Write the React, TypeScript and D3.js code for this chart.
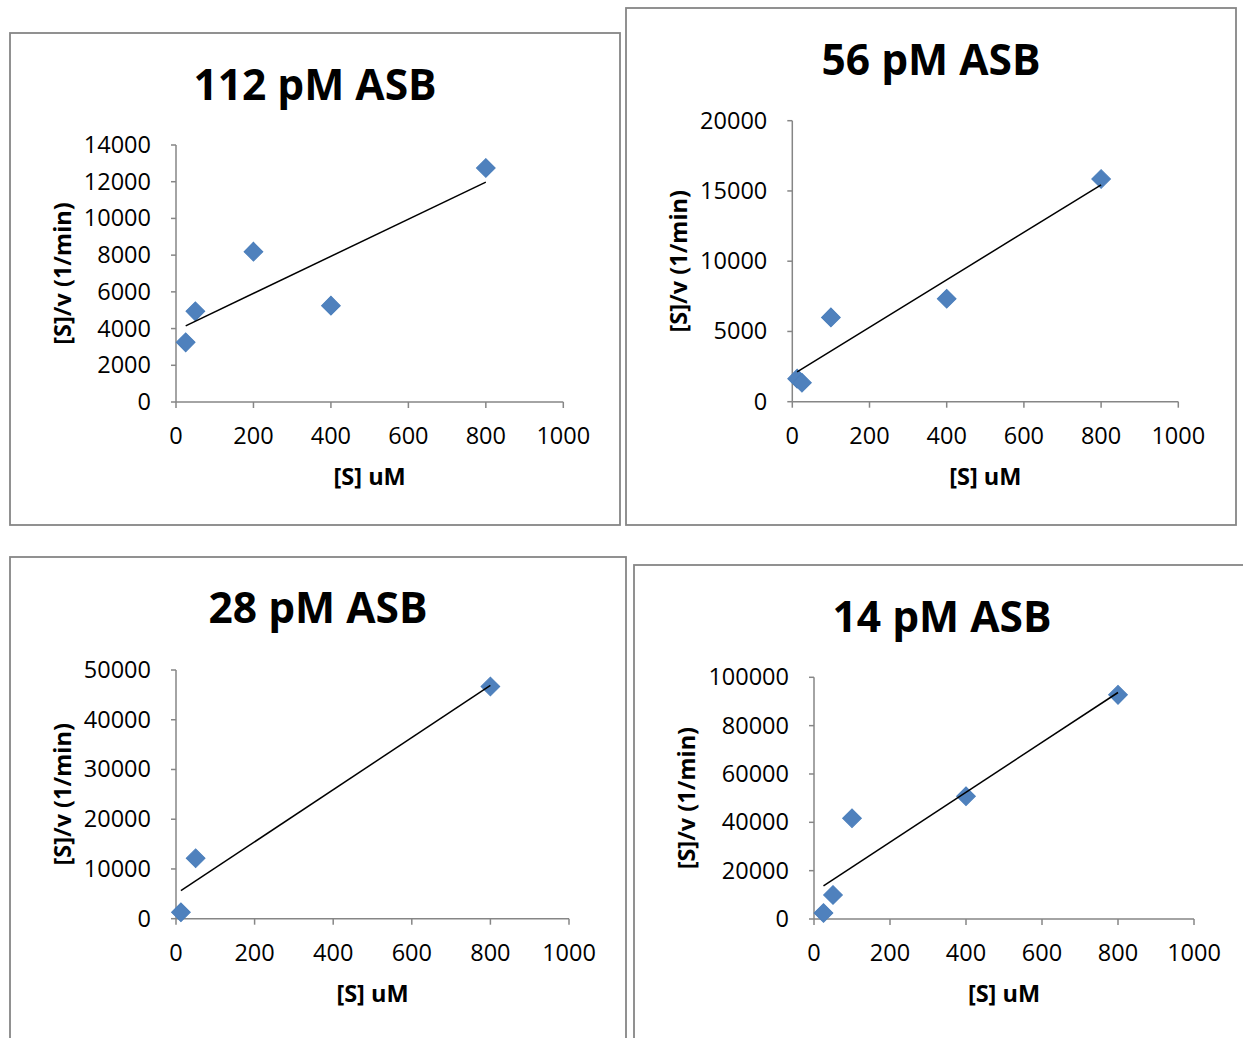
import React from "react";
import * as d3 from "d3";

const titles = ["112 pM ASB", "56 pM ASB", "28 pM ASB", "14 pM ASB"];
const xTicks = [0, 200, 400, 600, 800, 1000];

const x112 = [25, 50, 200, 400, 800];
const y112 = [3250, 4940, 8190, 5250, 12750];
const yTicks112 = [0, 2000, 4000, 6000, 8000, 10000, 12000, 14000];

const x56 = [12.5, 25, 100, 400, 800];
const y56 = [1640, 1350, 6000, 7330, 15850];
const yTicks56 = [0, 5000, 10000, 15000, 20000];

const x28 = [12.5, 50, 800];
const y28 = [1290, 12150, 46680];
const yTicks28 = [0, 10000, 20000, 30000, 40000, 50000];

const x14 = [25, 50, 100, 400, 800];
const y14 = [2480, 9940, 41690, 50800, 92750];
const yTicks14 = [0, 20000, 40000, 60000, 80000, 100000];

const xLabel = "[S] uM";
const yLabel = "[S]/v (1/min)";

type Layout = {
  box: [number, number, number, number];
  px: [number, number];
  py: [number, number];
  title: [number, number];
};

const layouts: Layout[] = [
  { box: [10, 33, 610, 492], px: [176, 563.3], py: [402, 145], title: [315, 83] },
  { box: [626, 8, 610, 517], px: [792.3, 1178.3], py: [401.7, 120.7], title: [931, 58] },
  { box: [10, 557, 616, 500], px: [176, 569], py: [918.7, 670], title: [318, 606] },
  { box: [634, 565, 616, 500], px: [814, 1194], py: [919, 677.3], title: [942, 615] },
];

const series = [
  { xs: x112, ys: y112, yTicks: yTicks112 },
  { xs: x56, ys: y56, yTicks: yTicks56 },
  { xs: x28, ys: y28, yTicks: yTicks28 },
  { xs: x14, ys: y14, yTicks: yTicks14 },
];

const FONT = "'Open Sans', 'Liberation Sans', sans-serif";
const AXIS = "#868686";
const BLUE = "#4F81BD";
const FS = 23.5;

function fit(xs: number[], ys: number[]) {
  const mx = d3.mean(xs)!;
  const my = d3.mean(ys)!;
  let sxy = 0, sxx = 0;
  xs.forEach((x, i) => {
    sxy += (x - mx) * (ys[i] - my);
    sxx += (x - mx) * (x - mx);
  });
  const b = sxy / sxx;
  return { b, a: my - b * mx };
}

function Panel({ idx }: { idx: number }) {
  const L = layouts[idx];
  const S = series[idx];
  const x = d3.scaleLinear().domain([0, 1000]).range(L.px);
  const yMax = S.yTicks[S.yTicks.length - 1];
  const y = d3.scaleLinear().domain([0, yMax]).range(L.py);
  const { a, b } = fit(S.xs, S.ys);
  const ext = d3.extent(S.xs) as [number, number];
  const line = d3
    .line<number>()
    .x((d) => x(d))
    .y((d) => y(a + b * d));
  const sym = d3.symbol().type(d3.symbolSquare).size(175)();
  const [bx, by, bw, bh] = L.box;
  const x0 = L.px[0];
  const y0 = L.py[0];
  return (
    <g>
      <rect x={bx} y={by} width={bw} height={bh} fill="white" stroke={AXIS} strokeWidth={1.8} />
      <text
        x={L.title[0]}
        y={L.title[1]}
        textAnchor="middle"
        dominantBaseline="central"
        fontFamily={FONT}
        fontWeight="bold"
        fontSize={42.5}
        fill="#000"
      >
        {titles[idx]}
      </text>
      {/* y axis */}
      <line x1={x0} x2={x0} y1={y(0)} y2={y(yMax)} stroke={AXIS} strokeWidth={1.5} />
      {S.yTicks.map((t) => (
        <g key={"y" + t}>
          <line x1={x0 - 5} x2={x0} y1={y(t)} y2={y(t)} stroke={AXIS} strokeWidth={1.5} />
          <text
            x={x0 - 25}
            y={y(t) - 1}
            textAnchor="end"
            dominantBaseline="central"
            fontFamily={FONT}
            fontSize={FS}
            fill="#000"
          >
            {t}
          </text>
        </g>
      ))}
      {/* x axis */}
      <line x1={x(0)} x2={x(1000)} y1={y0} y2={y0} stroke={AXIS} strokeWidth={1.5} />
      {xTicks.map((t) => (
        <g key={"x" + t}>
          <line x1={x(t)} x2={x(t)} y1={y0} y2={y0 + 6} stroke={AXIS} strokeWidth={1.5} />
          <text
            x={x(t)}
            y={y0 + 33}
            textAnchor="middle"
            dominantBaseline="central"
            fontFamily={FONT}
            fontSize={FS}
            fill="#000"
          >
            {t}
          </text>
        </g>
      ))}
      <text
        x={(L.px[0] + L.px[1]) / 2}
        y={y0 + 74}
        textAnchor="middle"
        dominantBaseline="central"
        fontFamily={FONT}
        fontWeight="bold"
        fontSize={FS}
        fill="#000"
      >
        {xLabel}
      </text>
      <text
        transform={`translate(${x0 - (idx === 3 ? 128 : 114)},${(L.py[0] + L.py[1]) / 2}) rotate(-90)`}
        textAnchor="middle"
        dominantBaseline="central"
        fontFamily={FONT}
        fontWeight="bold"
        fontSize={FS}
        fill="#000"
      >
        {yLabel}
      </text>
      {S.xs.map((xv, i) => (
        <path
          key={"p" + i}
          d={sym!}
          transform={`translate(${x(xv)},${y(S.ys[i])}) rotate(45)`}
          fill={BLUE}
          stroke="#4A7EBB"
          strokeWidth={1}
        />
      ))}
      <path d={line(ext)!} fill="none" stroke="#000" strokeWidth={1.5} />
    </g>
  );
}

export default function App() {
  return (
    <svg
      width={1243}
      height={1038}
      style={{ position: "absolute", left: 0, top: 0, background: "white" }}
    >
      <rect x={0} y={0} width={1243} height={1038} fill="white" />
      {[0, 1, 2, 3].map((i) => (
        <Panel key={i} idx={i} />
      ))}
    </svg>
  );
}
